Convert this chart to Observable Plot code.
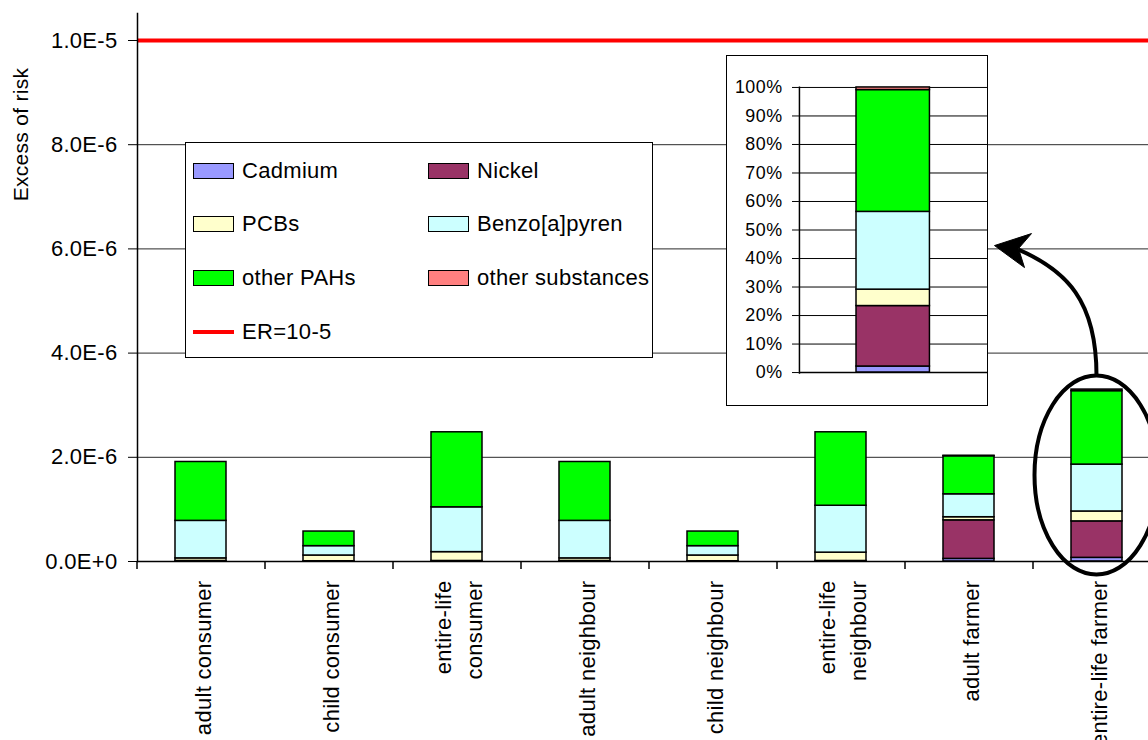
<!DOCTYPE html>
<html><head><meta charset="utf-8">
<script src="https://cdn.jsdelivr.net/npm/d3@7"></script>
<script src="https://cdn.jsdelivr.net/npm/@observablehq/plot@0.6"></script>
<style>
html,body{margin:0;padding:0;background:#fff;overflow:hidden;}
#wrap{position:relative;width:1148px;height:740px;font-family:"Liberation Sans",Arial,sans-serif;letter-spacing:0.3px;}
#main{position:absolute;left:0;top:0;}
#legend{position:absolute;left:185px;top:142px;width:466px;height:214px;border:1.5px solid #000;background:#fff;}
.item{position:absolute;height:24px;display:flex;align-items:center;font-size:22px;color:#000;white-space:nowrap;}
.sw{width:39px;height:14px;border:1.5px solid #000;margin-right:8px;box-sizing:content-box;}
.ln{width:41px;height:4px;background:#ff0000;margin-right:8px;}
#inset{position:absolute;left:726px;top:55px;width:260px;height:349px;border:1.5px solid #000;background:#fff;overflow:hidden;}
</style></head>
<body><div id="wrap"><div id="main"></div><div id="legend"></div><div id="inset"></div></div>
<script>
// ---- data ----
const categories = ["adult consumer","child consumer","entire-life consumer","adult neighbour","child neighbour","entire-life neighbour","adult farmer","entire-life farmer"];
const tickLabels = ["adult consumer","child consumer","entire-life\nconsumer","adult neighbour","child neighbour","entire-life\nneighbour","adult farmer","entire-life farmer"];
const substances = ["Cadmium","Nickel","PCBs","Benzo[a]pyren","other PAHs","other substances"];
const colors = ["#9999FF","#993366","#FFFFCC","#CCFFFF","#00FF00","#FF8080"];
const cadmium   = [0.01e-6,0.005e-6,0.01e-6,0.01e-6,0.005e-6,0.01e-6,0.05e-6,0.07e-6];
const nickel    = [0,0,0,0,0,0,0.74e-6,0.70e-6];
const pcbs      = [0.05e-6,0.11e-6,0.17e-6,0.05e-6,0.11e-6,0.16e-6,0.06e-6,0.19e-6];
const benzo     = [0.72e-6,0.18e-6,0.86e-6,0.72e-6,0.18e-6,0.90e-6,0.44e-6,0.90e-6];
const otherPAHs = [1.13e-6,0.28e-6,1.44e-6,1.13e-6,0.28e-6,1.41e-6,0.73e-6,1.41e-6];
const otherSubs = [0,0,0,0,0,0,0.01e-6,0.03e-6];
const yTicks = [0,2e-6,4e-6,6e-6,8e-6,1e-5];
const limitER = [1e-5];
const pctTicks = [0,0.1,0.2,0.3,0.4,0.5,0.6,0.7,0.8,0.9,1];
const insetCategory = "entire-life farmer";

const series = [cadmium,nickel,pcbs,benzo,otherPAHs,otherSubs];
const rows = [];
categories.forEach((c,i)=>series.forEach((s,j)=>rows.push({category:c,substance:substances[j],value:s[i]})));

const font = "Liberation Sans, Arial, sans-serif";
const fmtE = v => v.toExponential(1).toUpperCase();

const plot = Plot.plot({
  width:1148, height:740, marginLeft:137, marginRight:0, marginTop:13, marginBottom:179,
  style:{fontFamily:font, fontSize:"22px", letterSpacing:"0.3px", background:"transparent", color:"#000"},
  x:{domain:categories, range:[137,1161], paddingInner:0.6, paddingOuter:0.3, axis:null},
  y:{domain:[0,1e-5], range:[561,40], axis:null},
  color:{domain:substances, range:colors},
  marks:[
    Plot.gridY(yTicks.slice(1,5), {stroke:"#2a2a2a", strokeOpacity:1, strokeWidth:1}),
    Plot.ruleY(limitER, {stroke:"#ff0000", strokeWidth:4}),
    Plot.barY(rows, {x:"category", y:"value", fill:"substance", order:substances, stroke:"#000", strokeWidth:1.5}),
    Plot.ruleY([0], {stroke:"#000", strokeWidth:1.5}),
    Plot.frame({anchor:"left", stroke:"#000", strokeWidth:1.5}),
    Plot.axisY({ticks:yTicks, tickFormat:fmtE, tickSize:9, tickPadding:11, label:null, fontSize:22}),
    Plot.axisX({tickSize:8, tickFormat:()=>"", label:null, dx:-64, strokeWidth:1.5}),
    Plot.text(categories, {x:d=>d, text:(d,i)=>tickLabels[i], frameAnchor:"bottom", dy:19, rotate:-90, textAnchor:"end", lineAnchor:"middle", lineHeight:1.4, fontSize:22}),
    Plot.text(["Excess of risk"], {frameAnchor:"top-left", dx:-116, dy:121, rotate:-90, textAnchor:"middle", lineAnchor:"middle", fontSize:21})
  ]
});
document.getElementById("main").appendChild(plot);

// ellipse highlight + curved arrow pointing at the inset
const xs = plot.scale("x"), ys = plot.scale("y");
const bw = xs.bandwidth;
const cx = xs.apply(insetCategory) + bw/2;
const barTop = ys.apply(d3.sum(series, s=>s[7]));
const base = ys.apply(0);
const cy = (barTop+base)/2, ry = (base-barTop)/2 + 13.5, rx = 62;
const svg = d3.select(plot);
svg.append("ellipse").attr("cx",cx).attr("cy",cy).attr("rx",rx).attr("ry",ry)
  .attr("fill","none").attr("stroke","#000").attr("stroke-width",4);
const sx = cx, sy = cy-ry;
svg.append("path").attr("d",`M${sx},${sy} C${sx},${sy-75} ${sx-30},${sy-105} ${sx-78},${sy-126}`)
  .attr("fill","none").attr("stroke","#000").attr("stroke-width",4);
svg.append("path").attr("d",`M${sx-102},${sy-130} L${sx-65},${sy-142} L${sx-78},${sy-127} L${sx-72},${sy-108} Z`)
  .attr("fill","#000").attr("stroke","#000").attr("stroke-width",1);

// legend
const lg = document.getElementById("legend");
const rowsY = [16,69,123,177];
substances.forEach((s,j)=>{
  const d = document.createElement("div");
  d.className="item";
  d.style.left = (j%2===0? 7 : 242)+"px";
  d.style.top = rowsY[Math.floor(j/2)]+"px";
  d.innerHTML = `<div class="sw" style="background:${colors[j]}"></div><span>${s}</span>`;
  lg.appendChild(d);
});
const er = document.createElement("div");
er.className="item"; er.style.left="7px"; er.style.top=rowsY[3]+"px";
er.innerHTML = `<div class="ln"></div><span>ER=10-5</span>`;
lg.appendChild(er);

// inset: composition of the highlighted bar in percent
const insetRows = rows.filter(r=>r.category===insetCategory);
const inset = Plot.plot({
  width:262, height:349, marginLeft:72.5, marginRight:0, marginTop:31, marginBottom:30,
  style:{fontFamily:font, fontSize:"18px", letterSpacing:"0.5px", background:"transparent", color:"#000", overflow:"visible"},
  x:{domain:[insetCategory], range:[72.5,262], paddingInner:0, paddingOuter:0.78, axis:null},
  y:{domain:[0,1], range:[318.5,31.2], axis:null},
  color:{domain:substances, range:colors},
  marks:[
    Plot.gridY(pctTicks.slice(1), {stroke:"#000", strokeOpacity:1, strokeWidth:1}),
    Plot.barY(insetRows, {x:"category", y:"value", fill:"substance", order:substances, offset:"normalize", stroke:"#000", strokeWidth:1.5}),
    Plot.ruleY([0], {stroke:"#000", strokeWidth:1.5}),
    Plot.frame({anchor:"left", stroke:"#000", strokeWidth:1.5}),
    Plot.axisY({ticks:pctTicks, tickFormat:d3.format(".0%"), tickSize:7, tickPadding:10, label:null, fontSize:18})
  ]
});
document.getElementById("inset").appendChild(inset);
</script></body></html>
